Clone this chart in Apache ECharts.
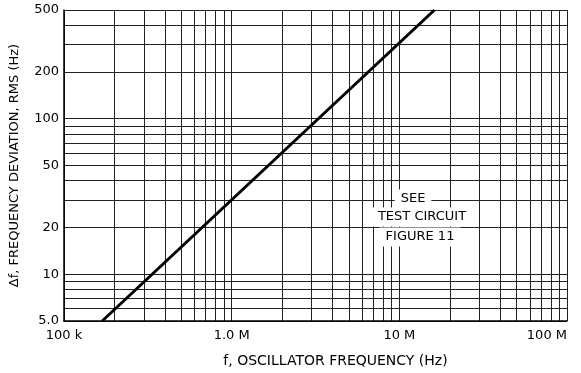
<!DOCTYPE html>
<html><head><meta charset="utf-8">
<script src="https://cdn.jsdelivr.net/npm/echarts@6/dist/echarts.min.js"></script>
<style>html,body{margin:0;padding:0;background:#fff}#c{width:581px;height:373px}</style>
</head><body><div id="c"></div>
<script>
// Curve: frequency deviation vs oscillator frequency (log-log straight line)
const frequencyHz = [169000, 16200000];
const deviationHz = [5, 500];

// Grid lines (log decades with 2..9 minors)
const xGridValues = [100000,200000,300000,400000,500000,600000,700000,800000,900000,
  1000000,2000000,3000000,4000000,5000000,6000000,7000000,8000000,9000000,
  10000000,20000000,30000000,40000000,50000000,60000000,70000000,80000000,90000000,100000000];
const yGridValues = [5,6,7,8,9,10,20,30,40,50,60,70,80,90,100,200,300,400,500];

// Tick labels
const xLabelValues = [100000, 1000000, 10000000, 100000000];
const xLabelTexts = ['100 k', '1.0 M', '10 M', '100 M'];
const yLabelValues = [5, 10, 20, 50, 100, 200, 500];
const yLabelTexts = ['5.0', '10', '20', '50', '100', '200', '500'];

const noteLines = ['SEE', 'TEST CIRCUIT', 'FIGURE 11'];

function pick(values, texts, v) {
  for (let i = 0; i < values.length; i++) {
    if (Math.abs(Math.log10(values[i]) - Math.log10(v)) < 1e-4) return texts[i];
  }
  return '';
}

const FONT = 'DejaVu Sans';
const chart = echarts.init(document.getElementById('c'), null, {renderer: 'canvas'});
chart.setOption({
  animation: false,
  backgroundColor: '#fff',
  grid: {left: 63, right: 14, top: 10, bottom: 48, show: false},
  xAxis: {
    type: 'log', logBase: 10, min: 100000, max: 100000000,
    name: 'f, OSCILLATOR FREQUENCY (Hz)', nameLocation: 'middle', nameGap: 33,
    nameTextStyle: {fontFamily: FONT, fontSize: 14, color: '#000', padding: [0, 0, 0, 40]},
    axisLine: {show: true, lineStyle: {color: '#000', width: 1.5}},
    axisTick: {show: false, customValues: xGridValues},
    axisLabel: {customValues: xLabelValues, margin: 8, fontFamily: FONT, fontSize: 13, color: '#000',
      alignMaxLabel: 'right',
      formatter: v => pick(xLabelValues, xLabelTexts, v)},
    splitLine: {show: true, lineStyle: {color: '#222', width: 1}},
    minorSplitLine: {show: false}
  },
  yAxis: {
    type: 'log', logBase: 10, min: 5, max: 500,
    name: '\u0394f, FREQUENCY DEVIATION, RMS (Hz)', nameLocation: 'middle', nameGap: 43,
    nameTextStyle: {fontFamily: FONT, fontSize: 13, color: '#000'},
    axisLine: {show: true, lineStyle: {color: '#000', width: 1.5}},
    axisTick: {show: false, customValues: yGridValues},
    axisLabel: {customValues: yLabelValues, margin: 5, fontFamily: FONT, fontSize: 13, color: '#000',
      formatter: v => pick(yLabelValues, yLabelTexts, v)},
    splitLine: {show: true, lineStyle: {color: '#222', width: 1}}
  },
  graphic: noteLines.map((t, i) => ({
    type: 'text', z: 100,
    x: [413, 422, 420][i], y: [199, 217, 237][i],
    style: {text: t, font: '13px "' + FONT + '"', fill: '#000', align: 'center', verticalAlign: 'middle',
      backgroundColor: '#fff', padding: [3, 6]}
  })),
  series: [{
    type: 'line', data: frequencyHz.map((f, i) => [f, deviationHz[i]]),
    showSymbol: false, symbol: 'none', silent: true,
    lineStyle: {color: '#000', width: 3}, z: 10
  }]
});
</script></body></html>
